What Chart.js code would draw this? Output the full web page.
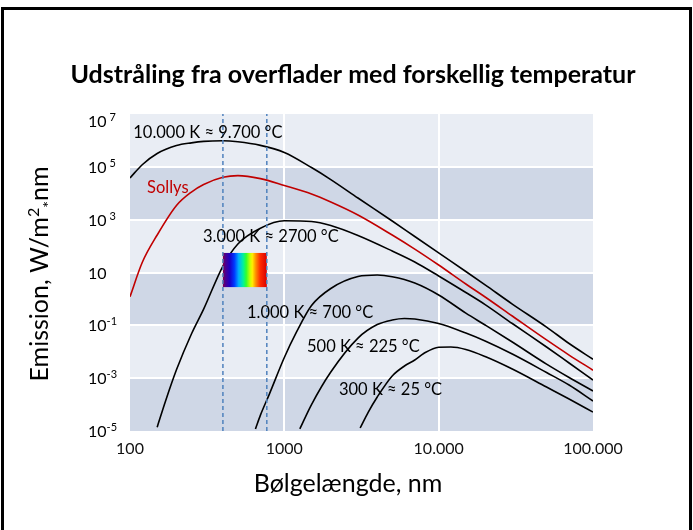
<!DOCTYPE html>
<html>
<head>
<meta charset="utf-8">
<script src="https://cdn.jsdelivr.net/npm/chart.js@4.4.1/dist/chart.umd.min.js"></script>
<style>
  html, body { margin: 0; padding: 0; background: #fff; }
  #wrap { position: relative; width: 693px; height: 530px; overflow: hidden; }
  #frame { position: absolute; left: 1px; top: 7px; width: 685px; height: 600px; border: 3px solid #000; pointer-events: none; }
  canvas { position: absolute; left: 0; top: 0; }
</style>
</head>
<body>
<div id="wrap">
  <canvas id="chart" width="693" height="530"></canvas>
  <div id="frame"></div>
</div>
<script>
// Udstråling fra overflader
const wl10000 = [100, 120, 150, 200, 250, 300, 400, 500, 700, 1000, 1500, 2000, 3000, 5000, 7000, 10000, 15000, 20000, 30000, 50000, 70000, 100000];
const em10000 = [3.8e4, 1.2e5, 3.2e5, 6.4e5, 8.1e5, 9.2e5, 9.7e5, 8.9e5, 6.5e5, 3.5e5, 9.4e4, 3.3e4, 6600, 890, 230, 55, 10.9, 3.4, 0.64, 0.086, 0.0205, 0.0052];

const wlSun = [100, 120, 150, 200, 250, 300, 400, 500, 700, 1000, 1500, 2000, 3000, 5000, 7000, 10000, 15000, 20000, 30000, 50000, 70000, 100000];
const emSun = [1.21, 23.9, 262, 3430, 1.11e4, 2.14e4, 4.0e4, 4.64e4, 3.57e4, 1.96e4, 9340, 4650, 1500, 262, 77, 19.2, 3.66, 1.18, 0.225, 0.028, 0.0075, 0.002];

const wl3000 = [150, 170, 200, 250, 300, 400, 500, 700, 1000, 1500, 2000, 3000, 5000, 7000, 10000, 15000, 20000, 30000, 50000, 70000, 100000];
const em3000 = [1.4e-5, 1.37e-4, 2.07e-3, 0.047, 0.41, 17.6, 120, 474, 904, 851, 600, 251, 65, 25, 7.4, 1.75, 0.61, 0.117, 0.0151, 0.00375, 8.5e-4];

const wl1000 = [650, 700, 800, 1000, 1200, 1500, 2000, 3000, 4000, 5000, 7000, 10000, 15000, 20000, 30000, 50000, 70000, 100000];
const em1000 = [1.2e-5, 4.0e-5, 2.5e-4, 6.05e-3, 0.056, 0.56, 2.48, 7.0, 8.0, 6.9, 4.0, 1.41, 0.29, 0.103, 0.0234, 3.4e-3, 1.06e-3, 3.27e-4];

const wl500 = [1260, 1500, 2000, 3000, 4000, 5000, 6000, 7000, 10000, 15000, 20000, 30000, 50000, 70000, 100000];
const em500 = [1.2e-5, 1.0e-4, 1.71e-3, 0.033, 0.107, 0.159, 0.181, 0.173, 0.117, 0.051, 0.0255, 8.2e-3, 1.64e-3, 5.5e-4, 1.37e-4];

const wl300 = [3100, 3500, 4000, 5000, 6000, 7000, 8000, 10000, 12000, 15000, 20000, 30000, 50000, 70000, 100000];
const em300 = [1.3e-5, 5.2e-5, 1.94e-4, 1.21e-3, 2.88e-3, 4.86e-3, 8.6e-3, 0.0149, 0.0151, 0.0122, 6.6e-3, 2.22e-3, 4.6e-4, 1.63e-4, 5.2e-5];

// visible light: dashed edges and the spectrum box (nm, W/m2 nm)
const visibleEdges = [400, 770];
const visibleBox = [2.8, 55];

const xTicks = [100, 1000, 10000, 100000];
const xTickLabels = ['100', '1000', '10.000', '100.000'];
const yTicks = [1e-5, 1e-3, 1e-1, 1e1, 1e3, 1e5, 1e7];
const yTickExp = ['-5', '-3', '-1', '', ' 3', ' 5', ' 7'];

const curveLabels = [
  { text: '10.000 K \u2248 9.700 \u00b0C', x: 105, y: 1.9e6, red: false },
  { text: 'Sollys', x: 129, y: 1.58e4, red: true },
  { text: '3.000 K \u2248 2700 \u00b0C', x: 297, y: 220, red: false },
  { text: '1.000 K \u2248 700 \u00b0C', x: 573, y: 0.292, red: false },
  { text: '500 K \u2248 225 \u00b0C', x: 1403, y: 0.0151, red: false },
  { text: '300 K \u2248 25 \u00b0C', x: 2259, y: 3.56e-4, red: false },
];

const BAND_LIGHT = '#e9edf4';
const BAND_DARK = '#cfd7e6';
const SUN_RED = '#c00000';
const DASH_BLUE = '#4f81bd';
const FONT = 'Lato, "Open Sans", sans-serif';

function pairs(xs, ys) {
  return xs.map((x, i) => ({ x, y: ys[i] }));
}

function curve(label, xs, ys, color) {
  return {
    label,
    data: pairs(xs, ys),
    borderColor: color,
    borderWidth: 1.6,
    pointRadius: 0,
    fill: false,
    cubicInterpolationMode: 'monotone',
  };
}

function dashLine(x) {
  return {
    label: 'edge ' + x,
    data: pairs([x, x], [yTicks[0], yTicks[yTicks.length - 1]]),
    borderColor: DASH_BLUE,
    borderWidth: 1.5,
    borderDash: [4, 3],
    pointRadius: 0,
    fill: false,
  };
}

// pieces: [{t, size, dy, bold}]
function drawRich(ctx, pieces, x, y, align) {
  let total = 0;
  pieces.forEach(p => {
    ctx.font = `${p.bold ? 'bold ' : ''}${p.size}px ${FONT}`;
    p.w = ctx.measureText(p.t).width;
    total += p.w;
  });
  let cx = align === 'center' ? x - total / 2 : x;
  ctx.textAlign = 'left';
  ctx.textBaseline = 'alphabetic';
  pieces.forEach(p => {
    ctx.font = `${p.bold ? 'bold ' : ''}${p.size}px ${FONT}`;
    ctx.fillText(p.t, cx, y + (p.dy || 0));
    cx += p.w;
  });
}

const bandsPlugin = {
  id: 'bands',
  beforeDraw(chart) {
    const { ctx, chartArea, scales: { y } } = chart;
    ctx.save();
    for (let i = 0; i < yTicks.length - 1; i++) {
      const top = y.getPixelForValue(yTicks[i + 1]);
      const bottom = y.getPixelForValue(yTicks[i]);
      ctx.fillStyle = i % 2 === 0 ? BAND_DARK : BAND_LIGHT;
      ctx.fillRect(chartArea.left, top, chartArea.right - chartArea.left, bottom - top);
    }
    ctx.restore();
  }
};

// spectrum box goes above the curves but under the dashed edges
const spectrumPlugin = {
  id: 'spectrum',
  afterDatasetDraw(chart, args) {
    if (args.index !== 2) return;
    const { ctx, scales: { x, y } } = chart;
    const left = x.getPixelForValue(visibleEdges[0]);
    const right = x.getPixelForValue(visibleEdges[1]);
    const top = y.getPixelForValue(visibleBox[1]);
    const bottom = y.getPixelForValue(visibleBox[0]);
    const g = ctx.createLinearGradient(left, 0, right, 0);
    g.addColorStop(0, '#80004a');
    g.addColorStop(0.06, '#4a0090');
    g.addColorStop(0.16, '#1a00c8');
    g.addColorStop(0.26, '#0038ff');
    g.addColorStop(0.36, '#00b0ff');
    g.addColorStop(0.46, '#00f0a0');
    g.addColorStop(0.53, '#30ff30');
    g.addColorStop(0.62, '#c8ff00');
    g.addColorStop(0.67, '#ffee00');
    g.addColorStop(0.75, '#ff8c00');
    g.addColorStop(0.85, '#ff2a00');
    g.addColorStop(1, '#d80000');
    ctx.save();
    ctx.fillStyle = g;
    ctx.fillRect(left, top, right - left, bottom - top);
    ctx.restore();
  }
};

const textPlugin = {
  id: 'texts',
  afterDraw(chart) {
    const { ctx, chartArea, scales: { x, y } } = chart;
    ctx.save();
    ctx.fillStyle = '#000';

    drawRich(ctx, [{ t: 'Udstråling fra overflader med forskellig temperatur', size: 25, bold: true }], 353, 83, 'center');

    drawRich(ctx, [{ t: 'Bølgelængde, nm', size: 25 }], 348, 492, 'center');

    ctx.save();
    ctx.translate(48, 274);
    ctx.rotate(-Math.PI / 2);
    drawRich(ctx, [
      { t: 'Emission, W/m', size: 25 },
      { t: '2', size: 16, dy: -9 },
      { t: '*', size: 16, dy: 6 },
      { t: 'nm', size: 25 },
    ], 0, 0, 'center');
    ctx.restore();

    yTicks.forEach((v, i) => {
      const py = Math.max(y.getPixelForValue(v), chartArea.top + 7) + 6;
      const parts = [{ t: '10', size: 16 }];
      if (yTickExp[i]) parts.push({ t: yTickExp[i], size: 11, dy: -6 });
      drawRich(ctx, parts, 88, py, 'left');
    });

    curveLabels.forEach(l => {
      ctx.fillStyle = l.red ? SUN_RED : '#000';
      ctx.font = `16.5px ${FONT}`;
      ctx.textAlign = 'left';
      ctx.textBaseline = 'middle';
      ctx.fillText(l.text, x.getPixelForValue(l.x), y.getPixelForValue(l.y));
    });
    ctx.restore();
  }
};

const edgeColor = (vals) => (c) => {
  const v = c.tick && c.tick.value;
  return v === vals[0] || v === vals[vals.length - 1] ? 'rgba(0,0,0,0)' : '#ffffff';
};

new Chart(document.getElementById('chart'), {
  type: 'line',
  plugins: [bandsPlugin, spectrumPlugin, textPlugin],
  data: {
    datasets: [
      dashLine(visibleEdges[0]),
      dashLine(visibleEdges[1]),
      curve('10.000 K', wl10000, em10000, '#000'),
      curve('Sollys', wlSun, emSun, SUN_RED),
      curve('3.000 K', wl3000, em3000, '#000'),
      curve('1.000 K', wl1000, em1000, '#000'),
      curve('500 K', wl500, em500, '#000'),
      curve('300 K', wl300, em300, '#000'),
    ],
  },
  options: {
    responsive: false,
    animation: false,
    devicePixelRatio: 1,
    events: [],
    layout: { padding: { left: 0, top: 114, right: 100, bottom: 0 } },
    plugins: { legend: { display: false }, tooltip: { enabled: false }, title: { display: false } },
    scales: {
      x: {
        type: 'logarithmic',
        min: xTicks[0],
        max: xTicks[xTicks.length - 1],
        afterBuildTicks: s => { s.ticks = xTicks.map(value => ({ value })); },
        afterFit: s => { s.height = 99; },
        ticks: {
          autoSkip: false,
          maxRotation: 0,
          padding: 8,
          color: '#111',
          font: { family: FONT, size: 16 },
          callback: (v, i) => xTickLabels[i],
        },
        grid: { color: edgeColor(xTicks), lineWidth: 2, drawTicks: false },
        border: { display: false },
      },
      y: {
        type: 'logarithmic',
        min: yTicks[0],
        max: yTicks[yTicks.length - 1],
        afterBuildTicks: s => { s.ticks = yTicks.map(value => ({ value })); },
        afterFit: s => { s.width = 130; },
        ticks: { display: false },
        grid: { color: edgeColor(yTicks), lineWidth: 2, drawTicks: false },
        border: { display: false },
      },
    },
  },
});
</script>
</body>
</html>
